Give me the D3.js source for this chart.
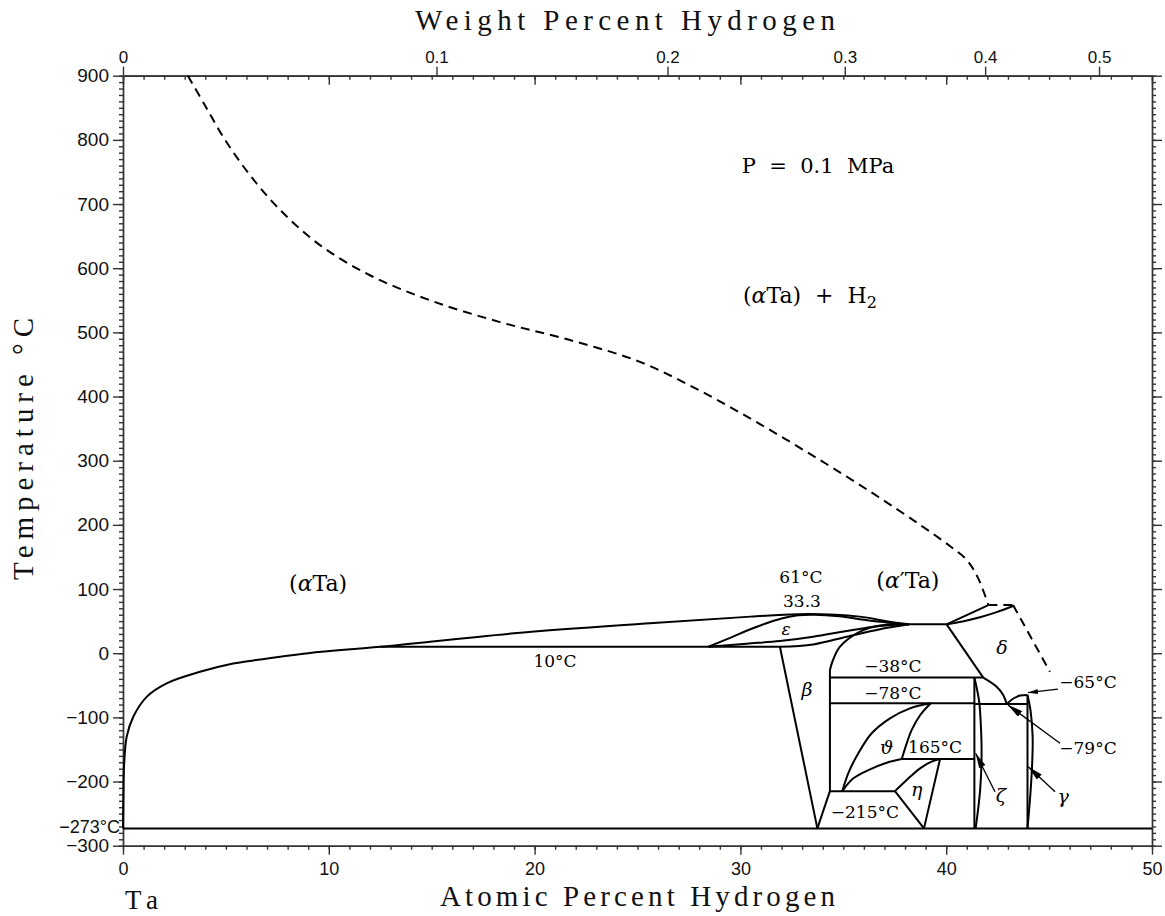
<!DOCTYPE html>
<html>
<head>
<meta charset="utf-8">
<script src="https://cdn.jsdelivr.net/npm/d3@7"></script>
<style>
  body { margin: 0; background: #fff; }
  svg { display: block; }
  .axis path, .axis line { stroke: #333; stroke-width: 1.4; }
  .axis text { font-family: 'Liberation Sans', sans-serif; fill: #111; }
  .title { font-family: 'Liberation Serif', serif; fill: #111; }
  .lbl { font-family: 'DejaVu Serif', serif; fill: #000; }
  .greek { font-style: italic; }
</style>
</head>
<body>
<svg id="chart" width="1165" height="916"></svg>
<script>
// ---- axis ticks ----
const atTicks = [0, 10, 20, 30, 40, 50]
const atMinor = d3.range(0, 51, 1)
const wtTicks = [0, 0.1, 0.2, 0.3, 0.4, 0.5]
const wtLabels = ['0', '0.1', '0.2', '0.3', '0.4', '0.5']
const tempTicks = [900, 800, 700, 600, 500, 400, 300, 200, 100, 0, -100, -200, -300]
const tempMinor = d3.range(-300, 901, 10)

// ---- phase boundaries, [at.% H, °C] ----
const alphaDome = [[0, -273], [0.02, -220], [0.05, -177], [0.18, -130], [0.5, -99], [1.15, -68], [2.12, -47],
  [3.74, -29], [5.35, -16], [6.17, -12], [9, 0], [12.5, 10], [19, 31], [25.6, 46.6], [30.5, 57], [33.3, 61],
  [35.8, 57], [37.1, 50], [38.2, 45]]
const flatTop = [[38.2, 45], [40.02, 45]]
const epsUpper = [[28.45, 10], [29.5, 24], [30.3, 35], [31.2, 46], [32, 54], [32.8, 59], [33.6, 60],
  [34.8, 57.5], [36, 52], [37.2, 47.5], [38.2, 45]]
const epsLower = [[28.45, 10], [30.3, 14.8], [31.92, 19], [33.54, 25.7], [35.16, 34.6], [36.78, 42.4], [38.2, 45]]
const betaUpper = [[31.92, 10], [33.54, 13.7], [35.16, 25.7], [36.78, 37.4], [38.2, 45]]
const betaRightTop = [[38.2, 45], [36.78, 43], [35.81, 33.5], [34.84, 10.1], [34.5, -10.6], [34.35, -26]]
const betaRight = [[34.35, -26], [34.35, -215]]
const betaFoot = [[34.35, -215], [33.74, -273]]
const betaLeft = [[31.92, 10], [33.74, -273]]
const eutectoid = [[12.5, 10], [31.92, 10]]
const line38 = [[34.35, -38], [41.8, -38]]
const line78 = [[34.35, -78], [41.37, -78]]
const line79 = [[41.37, -79], [43.95, -79]]
const line165 = [[37.84, -165], [41.37, -165]]
const line215 = [[34.35, -215], [37.51, -215]]
const line273 = [[0, -273], [50, -273]]
const thetaLeft = [[34.95, -215], [35.24, -187.2], [35.73, -156], [36.38, -124.8], [37.27, -101.5], [38.24, -85.9], [39.25, -78]]
const thetaRight = [[39.25, -78], [38.73, -96.7], [38.32, -120], [38.05, -143.6], [37.84, -165]]
const thetaBottom = [[37.84, -165], [37.11, -170.7], [36.3, -181], [35.49, -195], [34.95, -215]]
const etaTop = [[37.51, -215], [38.08, -197.6], [38.73, -179.4], [39.29, -169], [39.7, -165]]
const etaRight = [[39.7, -165], [38.92, -273]]
const etaLeft = [[37.51, -215], [38.92, -273]]
const zetaLeft = [[41.37, -38], [41.37, -273]]
const zetaRight = [[41.37, -38], [41.6, -75], [41.68, -110], [41.72, -155], [41.65, -213], [41.43, -273]]
const deltaLeft = [[40.02, 45], [41.8, -38]]
const deltaFoot = [[41.8, -38], [42.45, -52.2], [42.77, -65], [42.94, -79]]
const gammaTop = [[42.94, -79], [43.25, -71], [43.59, -66], [43.95, -65]]
const gammaLeft = [[43.95, -65], [43.95, -273]]
const gammaRight = [[43.95, -65], [44.1, -90], [44.2, -130], [44.18, -170], [44.1, -215], [43.95, -273]]
const alphaPrimeUpper = [[40.02, 45], [42.05, 75]]
const alphaPrimeLower = [[40.02, 45], [40.8, 49.5], [41.64, 56], [42.45, 64], [43.25, 73.5]]

// dashed: limit of (αTa) + H2 at 0.1 MPa
const gasBoundary = [[3.15, 900], [3.98, 854], [4.96, 800], [6.17, 745], [7.63, 691], [9.57, 636], [12, 589],
  [14.92, 550], [18.32, 516], [21.72, 488], [25.12, 454], [28.04, 409], [30.95, 357], [33.87, 301],
  [36.54, 247], [38.73, 200], [40.18, 167], [41.01, 145], [41.55, 117], [42.05, 75]]
const gasFlat = [[42.05, 75], [43.25, 75]]
const gasDelta = [[43.25, 75], [45.04, -29]]

const solidCurves = [alphaDome, flatTop, epsUpper, epsLower, betaUpper, betaRightTop, betaRight, betaFoot, betaLeft,
  eutectoid, line38, line78, line79, line165, line215, line273, thetaLeft, thetaRight, thetaBottom, etaTop, etaRight,
  etaLeft, zetaLeft, zetaRight, deltaLeft, deltaFoot, gammaTop, gammaLeft, gammaRight, alphaPrimeUpper, alphaPrimeLower]
const dashedCurves = [gasBoundary, gasFlat, gasDelta]

// labels: text, at.%, °C (centre), size
const labels = [
  ['61°C', 32.94, 118.7, 17], ['33.3', 32.99, 81.3, 17], ['10°C', 20.99, -12.2, 17],
  ['−38°C', 37.41, -20, 17], ['−78°C', 37.41, -61.2, 17], ['165°C', 39.46, -145.7, 17],
  ['−215°C', 36.05, -247, 17], ['−65°C', 46.89, -44.1, 17], ['−79°C', 46.89, -147.7, 17]
]
const greekLabels = [
  ['ε', 32.22, 36.2, 17], ['δ', 42.71, 8.1, 19], ['β', 33.24, -57.4, 19], ['ϑ', 37.11, -147.7, 19],
  ['η', 38.57, -213, 19], ['ζ', 42.66, -222.5, 19], ['γ', 45.68, -224, 19]
]
// arrows: tail -> head
const arrows = [
  [[45.43, -56], [43.97, -61.5], 'small'],
  [[45.53, -140.4], [43.0, -80.7], 'big'],
  [[42.37, -215.8], [41.43, -156], 'big'],
  [[45.29, -215.8], [43.99, -176.9], 'big']
]

// ---- layout ----
const plotLeft = 123, plotRight = 1152, plotTop = 75.7, plotBottom = 845.7

const x = d3.scaleLinear().domain([0, 50]).range([plotLeft, plotRight])
const y = d3.scaleLinear().domain([-300, 900]).range([plotBottom, plotTop])

// weight percent -> atomic percent (Ta 180.948, H 1.008)
const wtToAt = w => {
  const h = w / 1.008
  const ta = (100 - w) / 180.948
  return 100 * h / (h + ta)
}

const svg = d3.select('#chart')

const defs = svg.append('defs')
defs.append('marker').attr('id', 'big')
  .attr('viewBox', '0 0 15 7').attr('refX', 15).attr('refY', 3.5)
  .attr('markerWidth', 15).attr('markerHeight', 7)
  .attr('markerUnits', 'userSpaceOnUse').attr('orient', 'auto')
  .append('path').attr('d', 'M0,0 L15,3.5 L0,7 Z').attr('fill', '#000')
defs.append('marker').attr('id', 'small')
  .attr('viewBox', '0 0 10 5').attr('refX', 10).attr('refY', 2.5)
  .attr('markerWidth', 10).attr('markerHeight', 5)
  .attr('markerUnits', 'userSpaceOnUse').attr('orient', 'auto')
  .append('path').attr('d', 'M0,0 L10,2.5 L0,5 Z').attr('fill', '#000')

// ---- axes ----
svg.append('g').attr('class', 'axis').attr('transform', `translate(0,${plotBottom})`)
  .call(d3.axisBottom(x).tickValues(atMinor).tickSize(4).tickFormat('').tickSizeOuter(0))
svg.append('g').attr('class', 'axis').attr('transform', `translate(0,${plotBottom})`)
  .call(d3.axisBottom(x).tickValues(atTicks).tickSize(9).tickPadding(8).tickSizeOuter(0))
  .selectAll('text').style('font-size', '18px')

// top: at.% ticks pointing inside, wt.% ticks outside with labels
svg.append('g').attr('class', 'axis').attr('transform', `translate(0,${plotTop})`)
  .call(d3.axisBottom(x).tickValues(atMinor).tickSize(4).tickFormat('').tickSizeOuter(0))
svg.append('g').attr('class', 'axis').attr('transform', `translate(0,${plotTop})`)
  .call(d3.axisBottom(x).tickValues(atTicks).tickSize(9).tickFormat('').tickSizeOuter(0))
svg.append('g').attr('class', 'axis').attr('transform', `translate(0,${plotTop})`)
  .call(d3.axisTop(x).tickValues(wtTicks.map(wtToAt)).tickFormat((d, i) => wtLabels[i])
    .tickSize(9).tickPadding(4).tickSizeOuter(0))
  .selectAll('text').style('font-size', '17px')

svg.append('g').attr('class', 'axis').attr('transform', `translate(${plotLeft},0)`)
  .call(d3.axisLeft(y).tickValues(tempMinor).tickSize(4).tickFormat('').tickSizeOuter(0))
svg.append('g').attr('class', 'axis').attr('transform', `translate(${plotLeft},0)`)
  .call(d3.axisLeft(y).tickValues(tempTicks).tickSize(10).tickPadding(4).tickSizeOuter(0))
  .selectAll('text').style('font-size', '19px')

svg.append('g').attr('class', 'axis').attr('transform', `translate(${plotRight},0)`)
  .call(d3.axisRight(y).tickValues(tempMinor).tickSize(4).tickFormat('').tickSizeOuter(0))
svg.append('g').attr('class', 'axis').attr('transform', `translate(${plotRight},0)`)
  .call(d3.axisRight(y).tickValues(tempTicks).tickSize(10).tickFormat('').tickSizeOuter(0))

svg.append('text')
  .attr('x', plotLeft - 3).attr('y', y(-273) - 2).attr('dy', '0.35em')
  .attr('text-anchor', 'end')
  .style('font-family', 'Liberation Sans, sans-serif').style('font-size', '18px').attr('fill', '#111')
  .text('−273°C')

// titles
svg.append('text').attr('class', 'title')
  .attr('x', 440).attr('y', 906).attr('textLength', 395).attr('lengthAdjust', 'spacing')
  .style('font-size', '29px').text('Atomic Percent Hydrogen')
svg.append('text').attr('class', 'title')
  .attr('x', 415).attr('y', 30).attr('textLength', 420).attr('lengthAdjust', 'spacing')
  .style('font-size', '29px').text('Weight Percent Hydrogen')
svg.append('text').attr('class', 'title')
  .attr('transform', 'translate(33, 580) rotate(-90)')
  .attr('textLength', 262).attr('lengthAdjust', 'spacing')
  .style('font-size', '29px').text('Temperature °C')
svg.append('text').attr('class', 'title')
  .attr('x', 125).attr('y', 909).attr('textLength', 33).attr('lengthAdjust', 'spacing')
  .style('font-size', '27px').text('Ta')

// ---- boundaries ----
const line = d3.line()
  .x(d => x(d[0]))
  .y(d => y(d[1]))
  .curve(d3.curveCatmullRom.alpha(0.5))

svg.append('g').selectAll('path').data(solidCurves).join('path')
  .attr('d', line).attr('fill', 'none').attr('stroke', '#000').attr('stroke-width', 2)

svg.append('g').selectAll('path').data(dashedCurves).join('path')
  .attr('d', line).attr('fill', 'none').attr('stroke', '#000').attr('stroke-width', 2)
  .attr('stroke-dasharray', '9,6')

svg.append('g').selectAll('line').data(arrows).join('line')
  .attr('x1', d => x(d[0][0])).attr('y1', d => y(d[0][1]))
  .attr('x2', d => x(d[1][0])).attr('y2', d => y(d[1][1]))
  .attr('stroke', '#000').attr('stroke-width', 1.3)
  .attr('marker-end', d => `url(#${d[2]})`)

// ---- labels ----
svg.append('g').selectAll('text').data(labels).join('text').attr('class', 'lbl')
  .attr('x', d => x(d[1])).attr('y', d => y(d[2])).attr('dy', '0.36em')
  .attr('text-anchor', 'middle').style('font-size', d => d[3] + 'px')
  .text(d => d[0])

svg.append('g').selectAll('text').data(greekLabels).join('text').attr('class', 'lbl greek')
  .attr('x', d => x(d[1])).attr('y', d => y(d[2])).attr('dy', '0.3em')
  .attr('text-anchor', 'middle').style('font-size', d => d[3] + 'px')
  .text(d => d[0])

// phase field names
const phaseText = (at, t, size) => svg.append('text').attr('class', 'lbl')
  .attr('x', x(at)).attr('y', y(t)).attr('dy', '0.36em')
  .attr('text-anchor', 'middle').style('font-size', size + 'px')

const aTa = phaseText(9.48, 109.4, 22)
aTa.append('tspan').text('(')
aTa.append('tspan').attr('class', 'greek').text('α')
aTa.append('tspan').text('Ta)')

const apTa = phaseText(38.14, 114, 22)
apTa.append('tspan').text('(')
apTa.append('tspan').attr('class', 'greek').text('α')
apTa.append('tspan').text('′Ta)')

const gas = phaseText(33.38, 558.2, 22)
gas.append('tspan').text('(')
gas.append('tspan').attr('class', 'greek').text('α')
gas.append('tspan').text('Ta)\u00a0\u00a0+\u00a0\u00a0H')
gas.append('tspan').attr('dy', 5).style('font-size', '16px').text('2')

phaseText(33.77, 760.8, 21).text('P\u00a0\u00a0=\u00a0\u00a00.1\u00a0\u00a0MPa')
</script>
</body>
</html>
